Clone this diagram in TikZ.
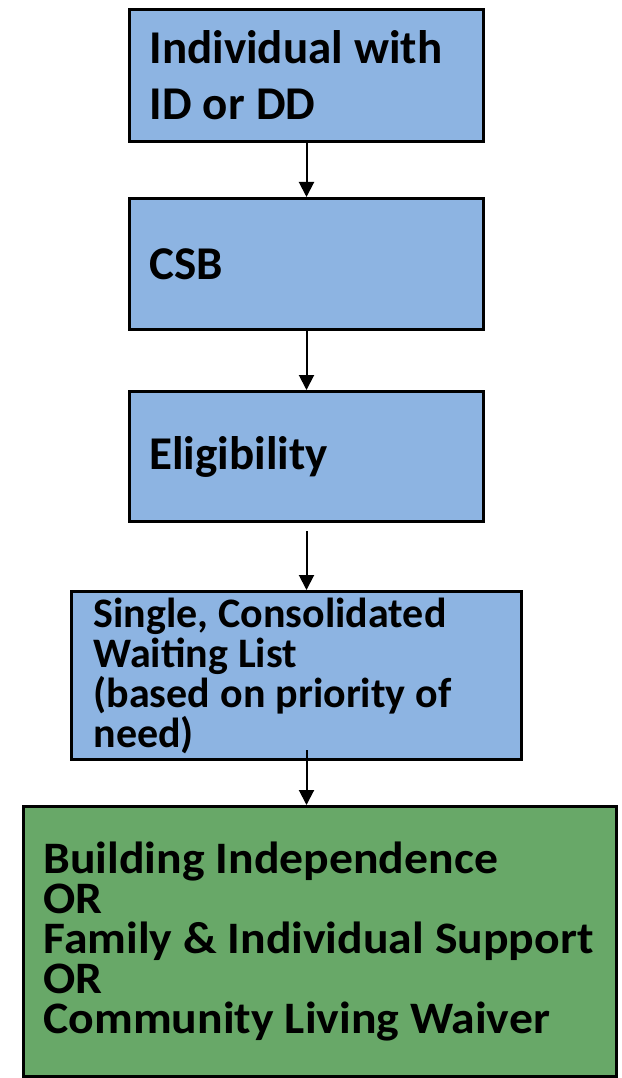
\documentclass[tikz,border=0pt]{standalone}
\usepackage{fontspec}
\setmainfont{Carlito}
\newfontfamily\widefont{Carlito}[FakeStretch=1.06]
\usetikzlibrary{arrows.meta}
\definecolor{boxblue}{RGB}{141,180,226}
\definecolor{boxgreen}{RGB}{104,168,104}
\begin{document}
\begin{tikzpicture}[x=1pt,y=-1pt,
  box/.style={draw=black,line width=3pt,rectangle,anchor=north west,align=left,inner xsep=20pt,inner ysep=0pt,
    execute at begin node={\spaceskip=0.24em\relax\hyphenpenalty=10000\hbadness=10000\hfuzz=20pt}},
  arr/.style={-{Triangle[length=15pt,width=15pt]},line width=2pt}]
\useasboundingbox (0,0) rectangle (621,1078);

\node[box,fill=boxblue,minimum width=354pt,minimum height=132pt,text width=314pt,font=\fontsize{47}{56}\selectfont\bfseries] (ind) at (128,8) {Individual with\\ID or DD};
\node[box,fill=boxblue,minimum width=354pt,minimum height=131pt,text width=314pt,font=\fontsize{47}{56}\selectfont\bfseries] (csb) at (128,197) {CSB};
\node[box,fill=boxblue,minimum width=354pt,minimum height=130pt,text width=314pt,font=\fontsize{47}{56}\selectfont\bfseries] (elig) at (128,390) {Eligibility};
\node[box,fill=boxblue,minimum width=450pt,minimum height=168pt,text width=406pt,inner xsep=22pt,font=\fontsize{42}{40}\selectfont\bfseries] (wait) at (70,590) {Single, Consolidated\\Waiting List\\(based on priority of\\need)};
\node[box,fill=boxgreen,minimum width=593pt,minimum height=270pt,text width=553pt,font=\widefont\fontsize{45}{40}\selectfont\bfseries] (prog) at (22,805) {Building Independence\\OR\\Family \& Individual Support\\OR\\Community Living Waiver};

\draw[arr] (ind.south) -- (csb.north);
\draw[arr] (csb.south) -- (elig.north);
\draw[arr] ([yshift=-8pt]elig.south) -- (elig.south |- wait.north);
\draw[arr] ([yshift=11pt]elig.south |- wait.south) -- (elig.south |- prog.north);
\end{tikzpicture}
\end{document}
